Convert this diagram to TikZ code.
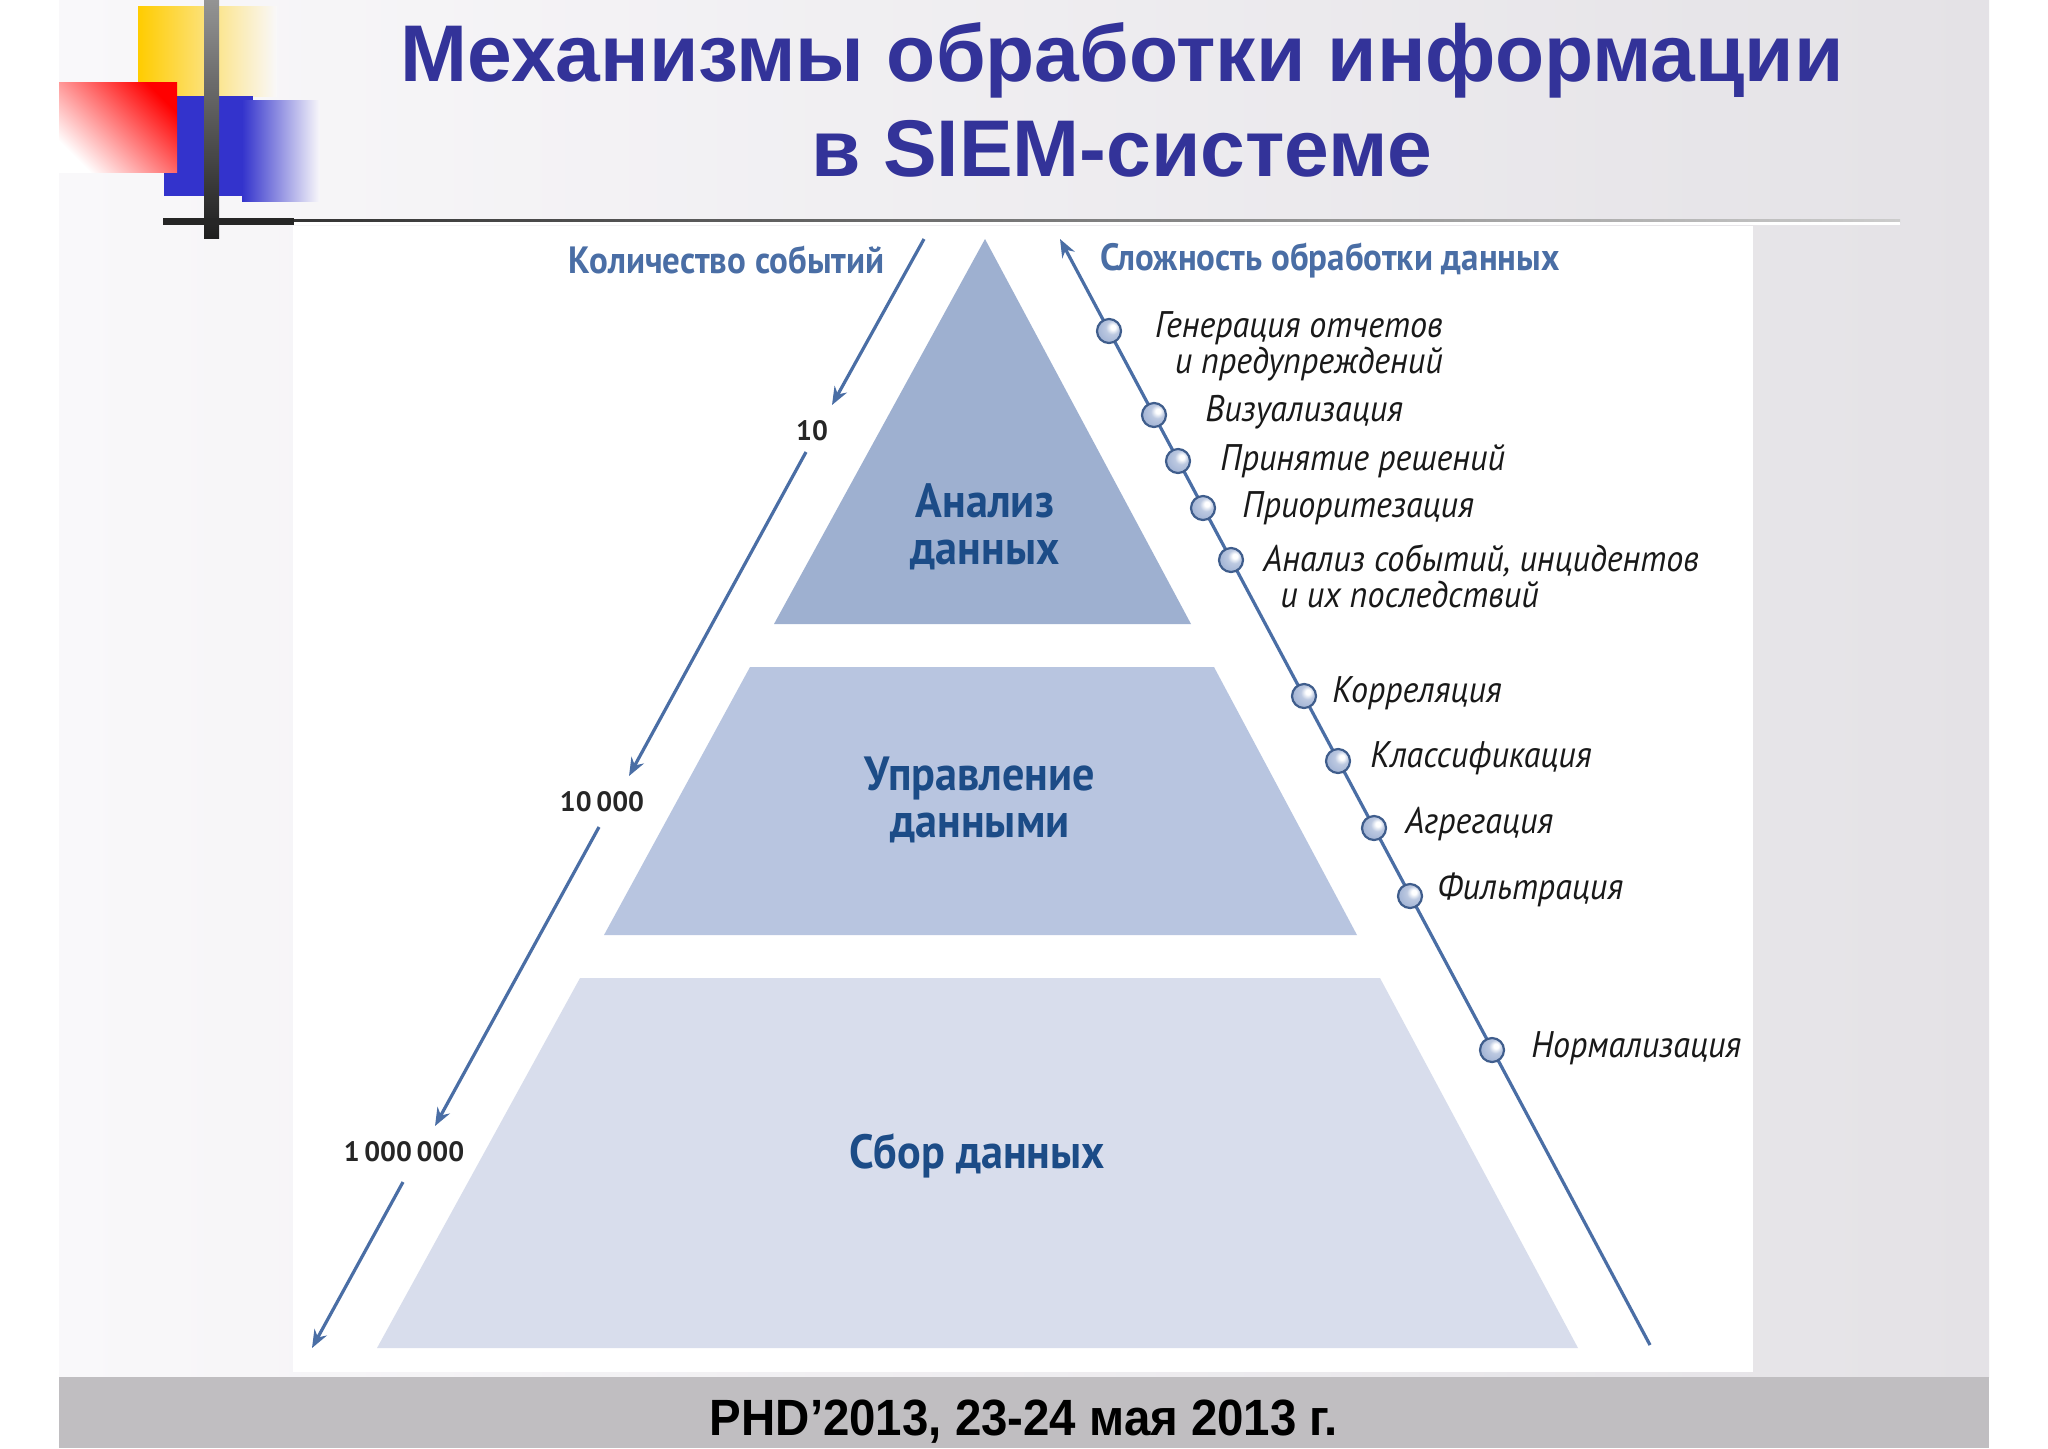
\documentclass[tikz,border=0pt]{standalone}
\usepackage{fontspec}
\setmainfont{Liberation Sans}
\newfontfamily\dfont[FakeStretch=0.92]{PT Sans}
\newfontfamily\nfont{PT Sans}
\newfontfamily\ffont[FakeStretch=0.93]{Liberation Sans}
\usetikzlibrary{arrows.meta,calc}
\definecolor{ttl}{RGB}{51,51,153}
\definecolor{lblue}{RGB}{74,110,165}
\definecolor{dblue}{RGB}{28,76,135}
\definecolor{pa}{RGB}{158,176,208}
\definecolor{pb}{RGB}{184,197,224}
\definecolor{pc}{RGB}{216,221,236}
\definecolor{foot}{RGB}{192,190,193}
\definecolor{slideL}{RGB}{249,248,250}
\definecolor{slideR}{RGB}{228,226,230}
\definecolor{yel}{RGB}{255,204,0}
\definecolor{blu}{RGB}{51,51,204}
\definecolor{balls}{RGB}{165,182,214}
\pgfdeclareradialshading{myball}{\pgfpoint{9bp}{9bp}}{%
  color(0bp)=(white); color(5bp)=(white); color(14bp)=(balls!75!white);
  color(28bp)=(balls); color(40bp)=(balls!85!black); color(60bp)=(balls!85!black)}
\tikzset{
  arrline/.style={draw=lblue, line width=1.6pt, -{Stealth[length=9pt,width=7pt]}},
  ball/.style={circle, minimum size=12pt, inner sep=0pt, draw=lblue!85!black, line width=1.1pt, shading=myball},
  itlabel/.style={font=\dfont\itshape\fontsize{18.5}{18}\selectfont, text=black!90, inner sep=0pt},
  hdlabel/.style={font=\dfont\bfseries\fontsize{19}{21}\selectfont, text=lblue, inner sep=0pt},
  pylabel/.style={font=\dfont\bfseries\fontsize{24}{23.5}\selectfont, text=dblue, align=center, inner sep=0pt},
  numlabel/.style={font=\nfont\bfseries\fontsize{14}{16}\selectfont, text=black!85, inner sep=0pt}
}
\begin{document}
\begin{tikzpicture}[x=0.5pt,y=-0.5pt]
\useasboundingbox (0,0) rectangle (2048,1448);
\fill[white] (0,0) rectangle (2048,1448);
% slide
\shade[left color=slideL, right color=slideR] (59,0) rectangle (1989,1377);
\fill[foot] (59,1377) rectangle (1989,1448);
\fill[white] (293,226) rectangle (1753,1372);
% decoration
\shade[left color=yel, middle color=yel, right color=slideL] (138,6) rectangle (277,96);
\fill[blu] (164,96) rectangle (253,196);
\shade[left color=blu, right color=slideL] (242,100) rectangle (320,201);
\shade[top color=red, bottom color=white, shading angle=-45] (59,82) rectangle (177,172);
\shade[top color=black!42, bottom color=black!88] (204,0) rectangle (219,238);
\fill[black!85] (163,218) rectangle (294,225);
\shade[left color=black!80, right color=black!20] (294,219) rectangle (1900,222);
\fill[white] (294,222) rectangle (1900,225);
% title
\node[font=\fontsize{40.2}{48}\selectfont\bfseries, text=ttl, anchor=base] (t1) at (1122,81) {Механизмы обработки информации};
\node[font=\fontsize{40.2}{48}\selectfont\bfseries, text=ttl, anchor=base] (t2) at (1122,176) {в SIEM-системе};
% footer
\node[font=\ffont\fontsize{25.5}{30}\selectfont\bfseries, text=black, anchor=base] (ft) at (1024,1435) {PHD’2013, 23-24 мая 2013 г.};
% pyramid
\fill[pa] (985,239) -- (1191,624) -- (774,624) -- cycle;
\fill[pb] (750,667) -- (1214,667) -- (1357,935) -- (604,935) -- cycle;
\fill[pc] (580,978) -- (1380,978) -- (1578,1348) -- (377,1348) -- cycle;
\node[pylabel] (py1) at (985,527) {Анализ\\данных};
\node[pylabel] (py2) at (980,800) {Управление\\данными};
\node[pylabel] (py3) at (977,1156) {Сбор данных};
% headers
\node[hdlabel, anchor=east] (hl) at (885,260) {Количество событий};
\node[hdlabel, anchor=west] (hr) at (1100,260) {Сложность обработки данных};
% left axis
\coordinate (a0) at (924,239);
\coordinate (a1) at (832,405);
\coordinate (b0) at (806,452);
\coordinate (b1) at (629,776);
\coordinate (c0) at (599,827);
\coordinate (c1) at (435,1126);
\coordinate (d0) at (403,1182);
\coordinate (d1) at (312,1348);
\node[numlabel] (n1) at (812,431) {10};
\node[numlabel] (n2) at (602,802) {10\,000};
\node[numlabel] (n3) at (404,1152) {1\,000\,000};
\draw[arrline] (a0) -- (a1);
\draw[arrline] (b0) -- (b1);
\draw[arrline] (c0) -- (c1);
\draw[arrline] (d0) -- (d1);
% right axis
\coordinate (rb) at (1650,1345);
\coordinate (rt) at (1060,239);
\draw[arrline] (rb) -- (rt);
\node[ball] (k1) at (1109,331) {};
\node[ball] (k2) at (1154,415) {};
\node[ball] (k3) at (1178,461) {};
\node[ball] (k4) at (1203,508) {};
\node[ball] (k5) at (1231,560) {};
\node[ball] (k6) at (1304,696) {};
\node[ball] (k7) at (1338,761) {};
\node[ball] (k8) at (1374,828) {};
\node[ball] (k9) at (1410,896) {};
\node[ball] (k10) at (1492,1050) {};
\node[itlabel, anchor=east, align=right] (l1) at (1443,346) {Генерация отчетов\\и предупреждений};
\node[itlabel, anchor=west] (l2) at (1205,412) {Визуализация};
\node[itlabel, anchor=west] (l3) at (1220,461) {Принятие решений};
\node[itlabel, anchor=west] (l4) at (1242,508) {Приоритезация};
\node[itlabel, anchor=west, align=left] (l5) at (1263,576) {Анализ событий, инцидентов\\\hspace*{8.5pt}и их последствий};
\node[itlabel, anchor=west] (l6) at (1332,693) {Корреляция};
\node[itlabel, anchor=west] (l7) at (1370,758) {Классификация};
\node[itlabel, anchor=west] (l8) at (1405,824) {Агрегация};
\node[itlabel, anchor=west] (l9) at (1437,890) {Фильтрация};
\node[itlabel, anchor=west] (l10) at (1531,1048) {Нормализация};
\end{tikzpicture}
\end{document}
